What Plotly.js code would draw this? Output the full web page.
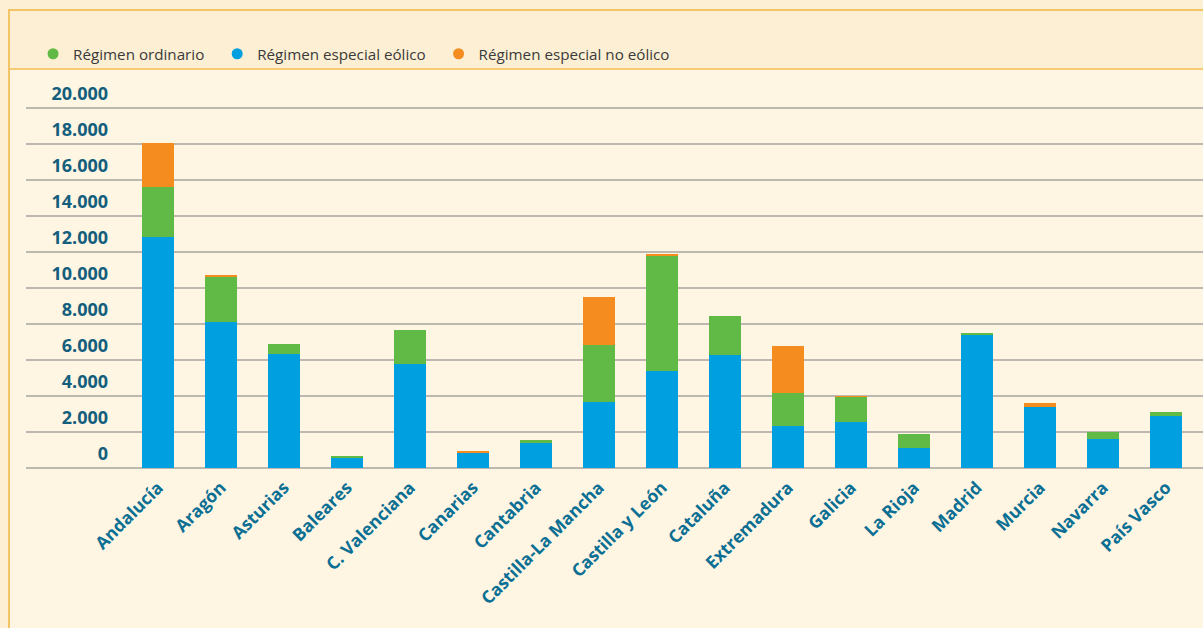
<!DOCTYPE html>
<html>
<head>
<meta charset="utf-8">
<script src="https://cdn.plot.ly/plotly-3.0.1.min.js"></script>
<style>
  html, body { margin:0; padding:0; width:1203px; height:628px; overflow:hidden; background:#FCEFD3; }
  #frame { position:absolute; left:8px; top:9px; width:1200px; height:625px; border-left:2px solid #F3C466; border-top:2px solid #F3C466; }
  #band { position:absolute; left:10px; top:11px; width:1193px; height:57px; background:#FCEFD3; border-bottom:2px solid #F5CC75; }
  #plotbg { position:absolute; left:10px; top:70px; width:1193px; height:558px; background:#FEF6E3; }
  #chart { position:absolute; left:0; top:0; width:1203px; height:628px; }
</style>
</head>
<body>
<div id="frame"></div>
<div id="band"></div>
<div id="plotbg"></div>
<div id="chart"></div>
<script>
const regiones = ["Andalucía","Aragón","Asturias","Baleares","C. Valenciana","Canarias","Cantabria","Castilla-La Mancha","Castilla y León","Cataluña","Extremadura","Galicia","La Rioja","Madrid","Murcia","Navarra","País Vasco"];
const eolico    = [12830, 8110, 6330, 560, 5780, 830, 1390, 3670, 5390, 6280, 2330, 2560, 1110, 7390, 3390, 1610, 2890];
const ordinario = [2780, 2500, 560, 120, 1890, 20, 150, 3170, 6390, 2170, 1830, 1390, 780, 110, 0, 390, 220];
const noEolico  = [2450, 110, 0, 0, 0, 90, 0, 2670, 110, 0, 2610, 50, 0, 0, 220, 0, 0];
const nombres = ["Régimen ordinario", "Régimen especial eólico", "Régimen especial no eólico"];
const yTicks = [0, 2000, 4000, 6000, 8000, 10000, 12000, 14000, 16000, 18000, 20000];
const yTickText = ["0", "2.000", "4.000", "6.000", "8.000", "10.000", "12.000", "14.000", "16.000", "18.000", "20.000"];

const cVerde = "#62BA46", cAzul = "#009FDF", cNaranja = "#F48C20";
const pad = "\u00A0\u00A0";

const traces = [
  {type:"bar", x:regiones, y:eolico, marker:{color:cAzul}, showlegend:false, hoverinfo:"skip"},
  {type:"bar", x:regiones, y:ordinario, marker:{color:cVerde}, showlegend:false, hoverinfo:"skip"},
  {type:"bar", x:regiones, y:noEolico, marker:{color:cNaranja}, showlegend:false, hoverinfo:"skip"},
  {type:"scatter", mode:"markers", x:[null], y:[null], yaxis:"y2", name:nombres[0] + pad, marker:{color:cVerde, size:11}, legendrank:1},
  {type:"scatter", mode:"markers", x:[null], y:[null], yaxis:"y2", name:nombres[1] + pad, marker:{color:cAzul, size:11}, legendrank:2},
  {type:"scatter", mode:"markers", x:[null], y:[null], yaxis:"y2", name:nombres[2], marker:{color:cNaranja, size:11}, legendrank:3}
];

const layout = {
  width:1203, height:628,
  margin:{l:26, r:0, t:106, b:160, autoexpand:false},
  paper_bgcolor:"rgba(0,0,0,0)",
  plot_bgcolor:"rgba(0,0,0,0)",
  barmode:"stack",
  bargap:0.49,
  font:{family:"Open Sans, sans-serif"},
  xaxis:{
    type:"category", categoryorder:"array", categoryarray:regiones,
    range:[-2.095, 16.587], showgrid:false, showline:false, zeroline:false, ticks:"",
    tickangle:-45, ticklabelstandoff:5,
    tickfont:{family:"Open Sans", size:17.5, color:"#0B6F94", weight:"bold"}
  },
  yaxis:{
    range:[0,20111], tickvals:yTicks, showticklabels:false, ticks:"",
    showgrid:true, gridcolor:"#BDB9B1", gridwidth:2,
    zeroline:true, zerolinecolor:"#BDB9B1", zerolinewidth:2, showline:false
  },
  yaxis2:{
    overlaying:"y", anchor:"free", position:0.0697, side:"left",
    range:[0,20111], tickvals:yTicks, ticktext:yTickText, ticks:"",
    showgrid:false, zeroline:false, showline:false, ticklabelshift:-14,
    tickfont:{family:"Open Sans", size:18, color:"#145E7D", weight:"bold"}
  },
  legend:{
    orientation:"h", x:0.006, y:1.144, xanchor:"left", yanchor:"middle",
    font:{family:"Open Sans", size:15.2, color:"#3A3A3A"},
    bgcolor:"rgba(0,0,0,0)", itemsizing:"trace", traceorder:"normal"
  },
  showlegend:true
};

Plotly.newPlot("chart", traces, layout, {displayModeBar:false, staticPlot:true});
</script>
</body>
</html>
